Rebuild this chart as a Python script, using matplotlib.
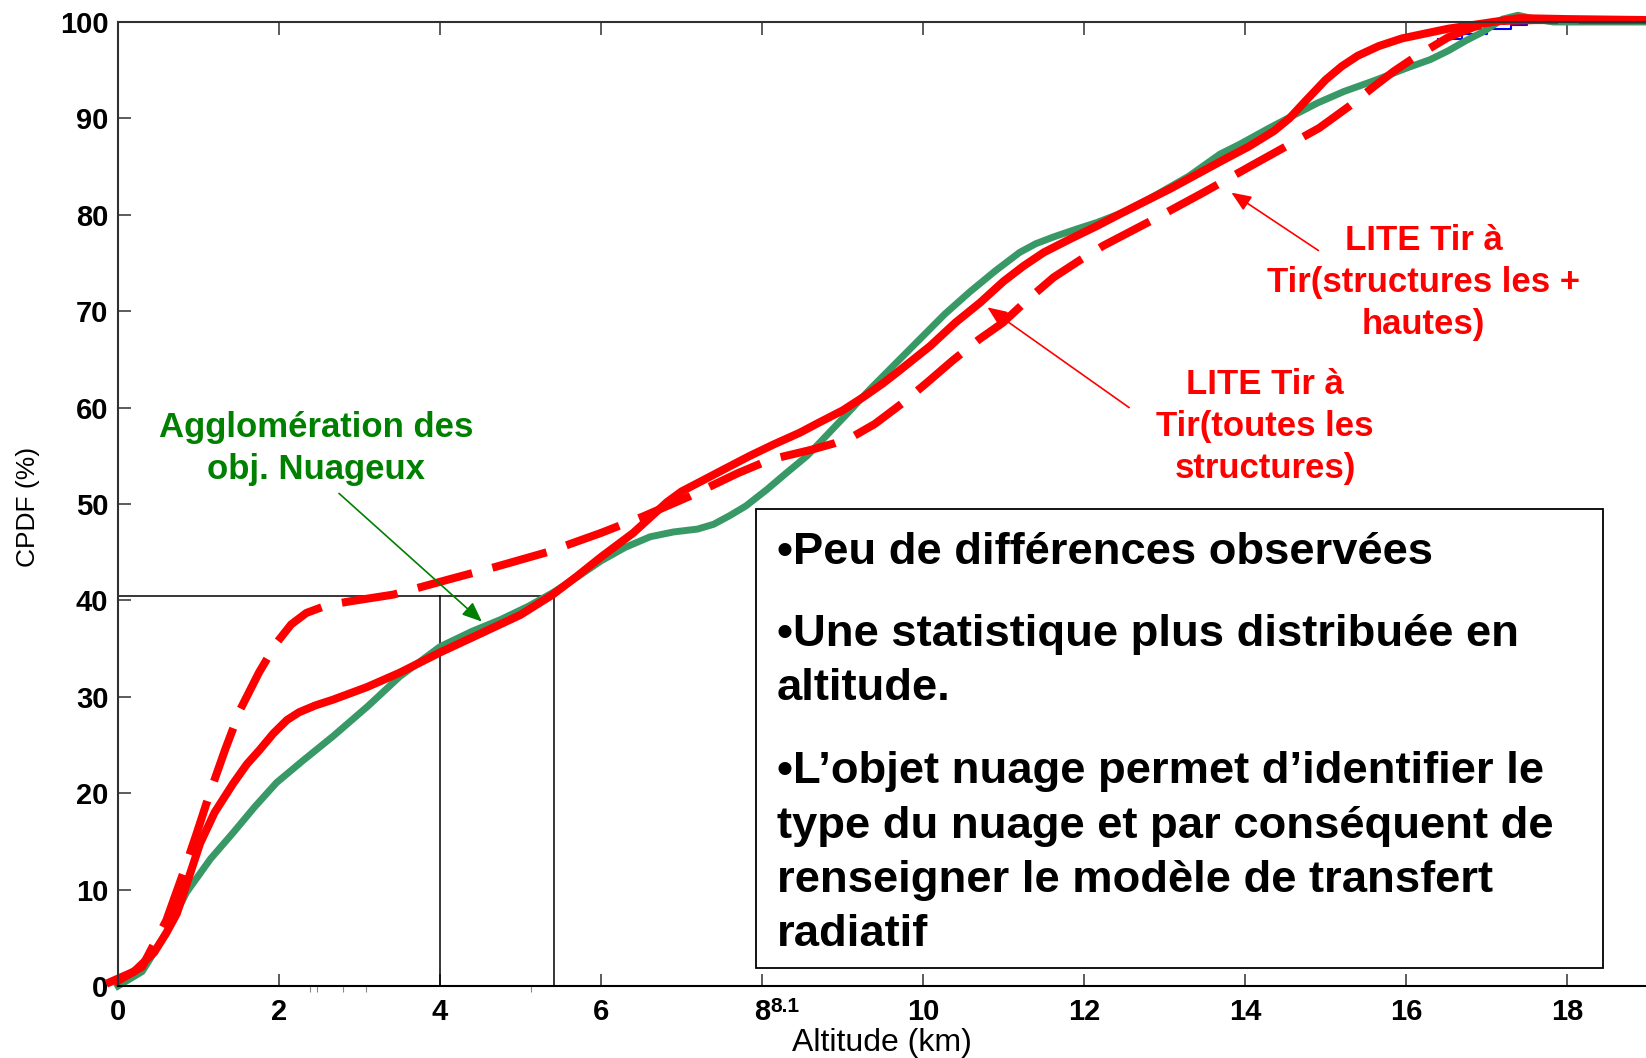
import matplotlib.pyplot as plt
from matplotlib.patches import Rectangle

# altitude (km) / CPDF (%) for each profile
agglo_x = [0.0, 0.3, 0.6, 0.85, 1.15, 1.43, 1.7, 1.97, 2.3, 2.67, 3.1, 3.5, 4.0, 4.4, 4.75,
           5.1, 5.4, 5.7, 6.0, 6.3, 6.61, 6.9, 7.2, 7.4, 7.6, 7.8, 8.06, 8.3, 8.56, 8.8, 9.05,
           9.34, 9.65, 9.96, 10.27, 10.58, 10.9, 11.2, 11.4, 11.62, 11.9, 12.16, 12.5, 12.86,
           13.3, 13.69, 13.93, 14.3, 14.62, 14.9, 15.23, 15.6, 16.0, 16.3, 16.52, 16.75, 16.96,
           17.2, 17.39, 17.6, 17.83, 19.0]
agglo_y = [0.0, 1.5, 5.5, 9.7, 13.2, 15.9, 18.6, 21.1, 23.4, 25.9, 29.0, 32.1, 35.2, 36.8, 38.0,
           39.4, 40.8, 42.4, 44.1, 45.5, 46.6, 47.1, 47.4, 47.9, 48.8, 49.8, 51.5, 53.2, 55.0, 57.1, 59.3,
           61.9, 64.5, 67.1, 69.7, 72.0, 74.2, 76.1, 77.0, 77.7, 78.5, 79.2, 80.3, 81.9,
           84.0, 86.3, 87.3, 89.0, 90.4, 91.6, 92.8, 93.9, 95.2, 96.1, 97.0, 98.1, 99.0,
           100.3, 100.7, 100.3, 100.0, 100.0]

toutes_x = [-0.1, 0.2, 0.45, 0.6, 0.73, 0.85, 1.02, 1.2, 1.43, 1.6, 1.76, 1.93, 2.1, 2.25, 2.45,
            2.67, 3.09, 3.5, 4.0, 4.54, 5.0, 5.4, 5.7, 6.0, 6.4, 6.82, 7.0, 7.23, 7.55, 7.85,
            8.15, 8.47, 8.72, 9.0, 9.26, 9.5, 9.7, 10.09, 10.4, 10.71, 11.0, 11.25, 11.5, 11.83,
            12.15, 12.45, 13.07, 13.71, 14.05, 14.36, 14.55, 14.75, 15.0, 15.2, 15.4, 15.66,
            15.95, 16.52, 17.0, 17.4, 18.0, 19.0]
toutes_y = [0.4, 1.5, 3.5, 5.5, 7.5, 10.5, 14.8, 18.0, 21.0, 23.0, 24.5, 26.2, 27.6, 28.4, 29.1,
            29.7, 31.0, 32.5, 34.6, 36.7, 38.5, 40.6, 42.5, 44.5, 47.0, 50.2, 51.3, 52.3, 53.7, 55.0,
            56.2, 57.4, 58.5, 59.7, 61.1, 62.5, 63.8, 66.4, 68.8, 70.9, 73.1, 74.7, 76.1, 77.5,
            78.8, 80.1, 82.7, 85.6, 87.1, 88.7, 90.0, 91.8, 94.0, 95.4, 96.5, 97.5,
            98.3, 99.3, 99.9, 100.4, 100.3, 100.2]

hautes_x = [-0.05, 0.3, 0.6, 0.81, 0.98, 1.14, 1.33, 1.52, 1.75, 1.97, 2.15, 2.34, 2.6, 2.88,
            3.42, 4.12, 4.7, 5.33, 6.0, 6.52, 7.1, 7.7, 8.1, 8.6, 8.9, 9.15, 9.4, 9.75, 10.05,
            10.37, 10.7, 10.99, 11.3, 11.62, 11.95, 12.24, 12.86, 13.48, 14.1, 14.92, 15.3, 15.6,
            15.85, 16.1, 16.52, 16.85, 17.17, 17.6, 19.0]
hautes_y = [0.3, 2.0, 6.8, 11.7, 15.9, 20.0, 24.5, 28.7, 32.5, 35.6, 37.5, 38.7, 39.5, 39.9,
            40.6, 42.2, 43.5, 45.0, 47.0, 48.7, 50.8, 53.2, 54.6, 55.6, 56.3, 57.1, 58.3, 60.5, 62.6,
            64.9, 67.1, 68.8, 71.2, 73.5, 75.3, 76.8, 79.5, 82.3, 85.2, 89.0, 91.3, 93.3,
            94.9, 96.3, 98.4, 99.5, 100.1, 100.2, 100.2]

blue_x = [16.4, 16.7, 17.0, 17.3, 17.5]
blue_y = [98.2, 98.8, 99.3, 99.7, 99.9]

# repere 40 %
seuil = 40.5
alt_a, alt_b = 4.0, 5.42

xticks = [0, 2, 4, 6, 8, 10, 12, 14, 16, 18]
yticks = [0, 10, 20, 30, 40, 50, 60, 70, 80, 90, 100]

VERT = "#389967"
ROUGE = "#ff0000"
ARIAL = ["Liberation Sans", "DejaVu Sans"]

fig = plt.figure(figsize=(16.46, 10.58), dpi=100)
ax = fig.add_axes([118 / 1646, 72 / 1058, 1 - 118 / 1646, 964 / 1058])
ax.set_xlim(0, 18.98)
ax.set_ylim(0, 100)

# lignes repere
ax.plot([0, alt_b], [seuil, seuil], color="black", lw=1.1)
ax.plot([alt_a, alt_a], [0, seuil], color="black", lw=1.1)
ax.plot([alt_b, alt_b], [0, seuil], color="black", lw=1.1)

ax.plot(blue_x, blue_y, color="blue", lw=1.5, drawstyle="steps-post", clip_on=False)
ax.plot(agglo_x, agglo_y, color=VERT, lw=5, clip_on=False, solid_joinstyle="round")
ax.plot(hautes_x, hautes_y, color=ROUGE, lw=5.8, dashes=(7, 2.6), dash_capstyle="butt",
        dash_joinstyle="round", clip_on=False)
ax.plot(toutes_x, toutes_y, color=ROUGE, lw=5.8, clip_on=False, solid_joinstyle="round")

# axes
for s in ["top", "left"]:
    ax.spines[s].set_color("#303030")
    ax.spines[s].set_linewidth(1.5)
ax.spines["bottom"].set_linewidth(1.5)
ax.spines["right"].set_visible(False)

ax.set_xticks(xticks)
ax.set_yticks(yticks)
ax.set_xticks([2.39, 2.47, 2.79, 3.08, 5.13], minor=True)
ax.tick_params(axis="both", direction="in", length=9, width=1.1, color="#303030")
ax.tick_params(axis="x", top=True, pad=9)
ax.tick_params(axis="x", which="minor", top=False, length=4, width=0.8, color="#888888")
ax.tick_params(axis="y", pad=7)
for lab in ax.get_yticklabels():
    lab.set_family(ARIAL)
    lab.set_fontweight("bold")
    lab.set_fontsize(21)
for lab in ax.get_xticklabels():
    lab.set_family(ARIAL)
    lab.set_fontweight("bold")
    lab.set_fontsize(21)

ax.text(8.1, -0.021, "8.1", transform=ax.get_xaxis_transform(), family=ARIAL,
        fontweight="bold", fontsize=15, ha="left", va="center")

fig.text(28 / 1646, 1 - 507 / 1058, "CPDF (%)", rotation=90, family=ARIAL, fontsize=19,
         ha="center", va="center")
fig.text(882 / 1646, 1 - 1043 / 1058, "Altitude (km)", family=ARIAL, fontsize=23,
         ha="center", va="center")

# etiquettes des courbes
def lignes(x, ys, textes, couleur):
    for y, t in zip(ys, textes):
        ax.text(x, y, t, color=couleur, family=ARIAL, fontweight="bold", fontsize=25,
                ha="center", va="baseline")

lignes(2.46, [56.9, 52.6], ["Agglomération des", "obj. Nuageux"], "#008000")
lignes(16.22, [76.35, 72.0, 67.6], ["LITE Tir à", "Tir(structures les +", "hautes)"], ROUGE)
lignes(14.25, [61.44, 57.04, 52.72], ["LITE Tir à", "Tir(toutes les", "structures)"], ROUGE)

fleche = dict(arrowstyle="-|>,head_length=1.2,head_width=0.5", lw=1.2, shrinkA=0, shrinkB=0)
ax.annotate("", xy=(4.52, 37.8), xytext=(2.745, 51.1),
            arrowprops=dict(fleche, color="#008000"))
ax.annotate("", xy=(13.83, 82.3), xytext=(14.91, 76.3),
            arrowprops=dict(fleche, color=ROUGE))
ax.annotate("", xy=(10.80, 70.4), xytext=(12.56, 60.0),
            arrowprops=dict(fleche, color=ROUGE))

# encadre
ax.add_patch(Rectangle((7.93, 1.87), 18.45 - 7.93, 49.5 - 1.87, facecolor="white",
                       edgecolor="black", lw=1.3, zorder=5, clip_on=False))
bloc = [
    ("•Peu de différences observées", 564),
    ("•Une statistique plus distribuée en", 646),
    ("altitude.", 700),
    ("•L’objet nuage permet d’identifier le", 783),
    ("type du nuage et par conséquent de", 838),
    ("renseigner le modèle de transfert", 892),
    ("radiatif", 946),
]
for texte, py in bloc:
    fig.text(777 / 1646, 1 - py / 1058, texte, family=ARIAL, fontweight="bold",
             fontsize=32.7, ha="left", va="baseline", zorder=6)

fig.savefig("out.png", dpi=100)
